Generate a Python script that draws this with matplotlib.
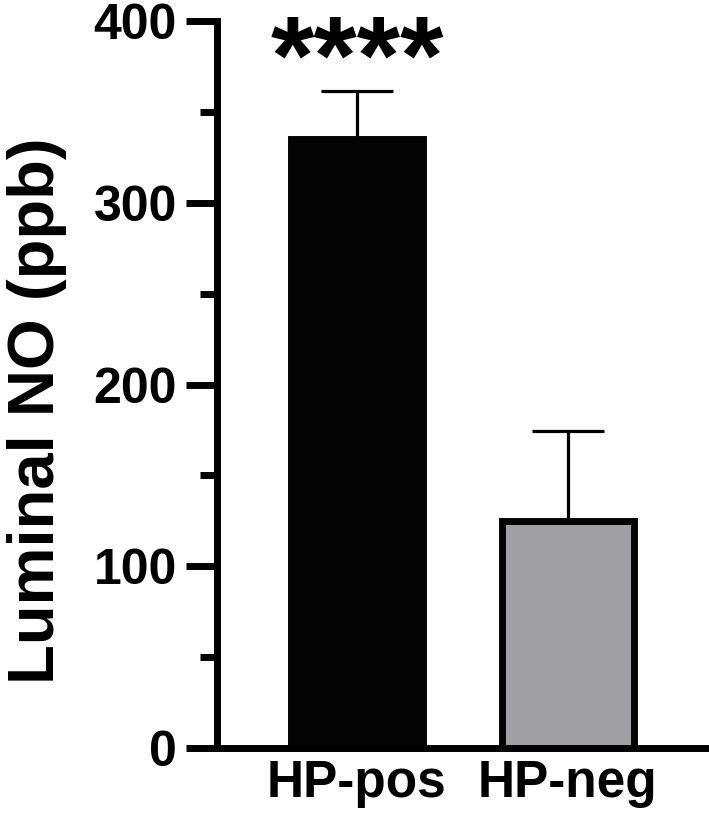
import numpy as np
import matplotlib
matplotlib.use("Agg")
import matplotlib.pyplot as plt
from matplotlib.ticker import MultipleLocator

plt.rcParams['font.family'] = ['Liberation Sans', 'DejaVu Sans']
plt.rcParams['font.weight'] = 'bold'

groups = ['HP-pos', 'HP-neg']
means = [335, 125]
sds = [26.5, 49.5]
colors = ['#050505', '#a0a0a4']
signif = '****'

x = np.arange(len(groups))

fig = plt.figure(figsize=(7.09, 8.21), dpi=100)
ax = fig.add_axes([0.306, 0.0889, 0.6926, 0.8855])

lw = 5.0
ax.bar(x, means, width=0.627, color=colors, edgecolor='#050505', linewidth=lw, zorder=2)
ax.errorbar(x, means, yerr=[np.zeros(len(sds)), sds], fmt='none', ecolor='black',
            elinewidth=2.3, capsize=26, capthick=2.3, zorder=1)

# significance stars above the first bar
ax.text(x[0], 360, signif, ha='center', va='baseline',
        fontsize=80, fontweight='bold', clip_on=False)

ax.set_xlim(-0.665, 1.667)
ax.set_ylim(0, 400)
ax.set_xticks(x)
ax.set_xticklabels(groups)
ax.yaxis.set_major_locator(MultipleLocator(100))
ax.yaxis.set_minor_locator(MultipleLocator(50))
ax.set_ylabel('Luminal NO (ppb)', fontsize=47, fontweight='bold')
ax.yaxis.set_label_coords(-0.305, 0.464)

for s in ['top', 'right']:
    ax.spines[s].set_visible(False)
for s in ['left', 'bottom']:
    ax.spines[s].set_linewidth(lw)
    ax.spines[s].set_capstyle('projecting')

ax.tick_params(axis='y', which='major', length=22, width=lw, labelsize=36, pad=7)
ax.tick_params(axis='y', which='minor', length=12.5, width=lw)
ax.tick_params(axis='x', length=0, labelsize=37, pad=8)
for lab in ax.get_xticklabels() + ax.get_yticklabels():
    lab.set_fontweight('bold')

fig.savefig('out.png', dpi=100)
